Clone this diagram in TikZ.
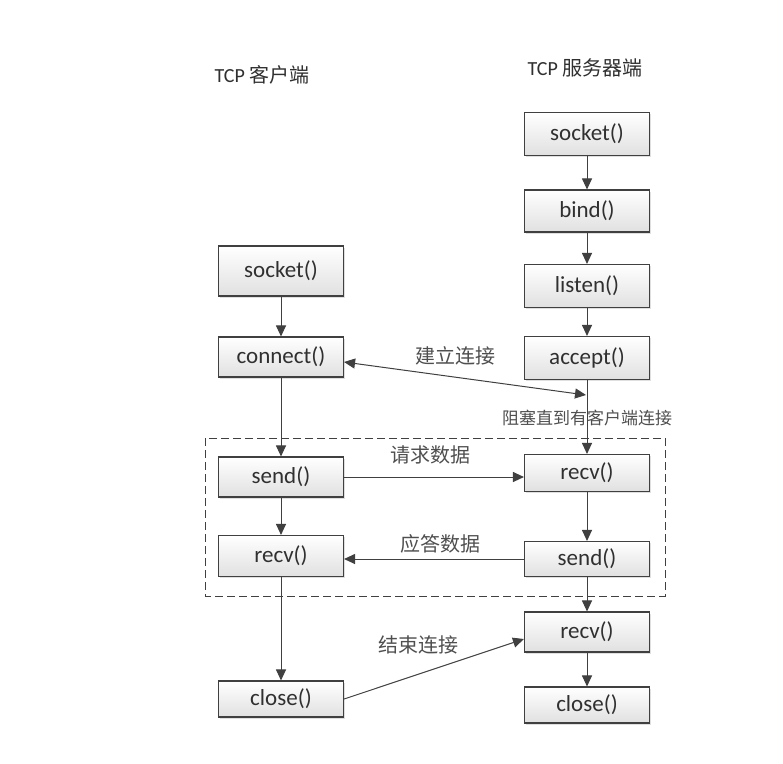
\documentclass[tikz,border=0pt]{standalone}
\usepackage{fontspec}
\setmainfont{Carlito}
\newfontfamily\cjk{Noto Sans CJK SC}
\usetikzlibrary{arrows.meta,shadows}
\definecolor{ln}{HTML}{404040}
\definecolor{tx}{HTML}{303030}
\tikzset{
  fbox/.style={draw=ln, line width=1.1pt, top color=white, bottom color=black!12,
    drop shadow={shadow xshift=1.5pt, shadow yshift=-1.5pt, opacity=0.25},
    minimum width=125pt, inner sep=0pt, text=tx,
    font=\fontsize{23}{26}\selectfont},
  conn/.style={draw=ln, line width=1pt, -{Triangle[length=11pt,width=10pt]}},
  lbl/.style={text=tx!85, font=\cjk\fontsize{20}{24}\selectfont, inner sep=0pt},
  ttl/.style={text=tx, font=\fontsize{20}{24}\selectfont, inner sep=0pt}
}
\begin{document}
\begin{tikzpicture}[x=1pt,y=-1pt]
\useasboundingbox (0,0) rectangle (783,763);
\fill[white] (0,0) rectangle (783,763);

% titles
\node[ttl] (tc) at (262,75) {TCP {\cjk 客户端}};
\node[ttl] (ts) at (585,68) {TCP {\cjk 服务器端}};

% dashed frame
\draw[ln, line width=1pt, dash pattern=on 8pt off 4pt] (205,438) rectangle (665,596);

% client
\node[fbox, minimum height=50pt] (cs) at (281,271) {socket()};
\node[fbox, minimum height=40pt] (cc) at (281,357) {connect()};
\node[fbox, minimum height=40pt] (csd) at (281,477) {send()};
\node[fbox, minimum height=41pt] (crv) at (281,556) {recv()};
\node[fbox, minimum height=36pt] (ccl) at (281,699) {close()};

% server
\node[fbox, minimum height=43pt] (ss) at (587,134) {socket()};
\node[fbox, minimum height=42pt] (sb) at (587,211) {bind()};
\node[fbox, minimum height=43pt] (sl) at (587,286) {listen()};
\node[fbox, minimum height=43pt] (sa) at (587,358) {accept()};
\node[fbox, minimum height=37pt] (srv) at (587,473) {recv()};
\node[fbox, minimum height=35pt] (ssd) at (587,559) {send()};
\node[fbox, minimum height=40pt] (srv2) at (587,632) {recv()};
\node[fbox, minimum height=36pt] (scl) at (587,705) {close()};

% client flow
\draw[conn] (cs) -- (cc);
\draw[conn] (cc) -- (csd);
\draw[conn] (csd) -- (crv);
\draw[conn] (crv) -- (ccl);

% server flow
\draw[conn] (ss) -- (sb);
\draw[conn] (sb) -- (sl);
\draw[conn] (sl) -- (sa);
\draw[conn] (sa) -- (srv);
\draw[conn] (srv) -- (ssd);
\draw[conn] (ssd) -- (srv2);
\draw[conn] (srv2) -- (scl);

% messages
\coordinate (acc) at (586,395);
\draw[conn, {Triangle[length=11pt,width=10pt]}-{Triangle[length=11pt,width=10pt]}] ([yshift=-5pt]cc.east) -- (acc);
\node[lbl] (l1) at (455,356) {建立连接};
\node[lbl, font=\cjk\fontsize{17}{20}\selectfont] (l0) at (587,418) {阻塞直到有客户端连接};

\draw[conn] (csd.east) -- (srv.west |- csd.east);
\node[lbl] (l2) at (430,455) {请求数据};

\draw[conn] (ssd.west) -- (crv.east |- ssd.west);
\node[lbl] (l3) at (440,544) {应答数据};

\draw[conn] (ccl.east) -- ([yshift=-7pt]srv2.west);
\node[lbl] (l4) at (418,645) {结束连接};
\end{tikzpicture}
\end{document}
